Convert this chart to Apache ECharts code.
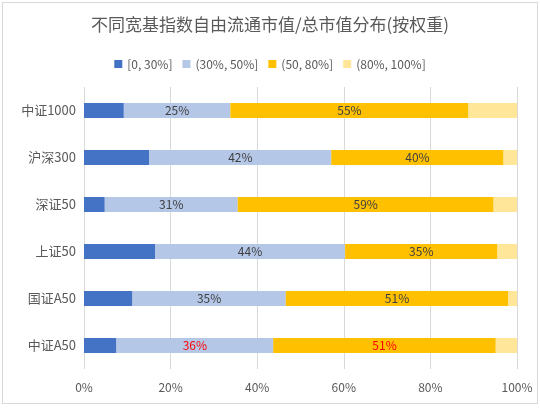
<!DOCTYPE html>
<html><head><meta charset="utf-8">
<script src="https://cdn.jsdelivr.net/npm/echarts@6/dist/echarts.min.js"></script>
<style>
html,body{margin:0;padding:0;background:#fff;}
#wrap{position:absolute;left:2px;top:2px;width:534px;height:400px;border:1px solid #d9d9d9;}
#c{position:absolute;left:0;top:0;width:540px;height:410px;}
</style></head>
<body>
<div id="wrap"></div>
<div id="c"></div>
<script>
const categories = ['中证1000','沪深300','深证50','上证50','国证A50','中证A50'];
const seriesNames = ['[0, 30%]','(30%, 50%]','(50, 80%]','(80%, 100%]'];
const s0_30 = [9.2, 15.1, 4.8, 16.4, 11.2, 7.5];
const s30_50 = [24.6, 42.0, 30.7, 43.9, 35.4, 36.2];
const s50_80 = [55.0, 39.8, 59.1, 35.2, 51.4, 51.4];
const s80_100 = [11.2, 3.1, 5.4, 4.5, 2.0, 4.9];
const xTicks = [0, 20, 40, 60, 80, 100];

const colors = ['#4472C4','#B4C7E7','#FFC000','#FFE699'];
const font = '"Noto Sans CJK SC", "Noto Sans", sans-serif';
const highlightIdx = 5;

function mk(name, vals, i, showLabel){
  return {
    name: name, type: 'bar', stack: 'a', barWidth: 15,
    itemStyle: {color: colors[i]},
    label: {show: showLabel, position: 'inside', color: '#404040', fontSize: 12, fontFamily: font,
      formatter: p => Math.round(p.value) + '%'},
    emphasis: {disabled: true},
    data: vals.map((v, k) => (showLabel && k === highlightIdx) ? {value: v, label: {color: '#FF0000'}} : v)
  };
}

const chart = echarts.init(document.getElementById('c'));
chart.setOption({
  animation: false,
  title: {text: '不同宽基指数自由流通市值/总市值分布(按权重)', left: 'center', top: 11,
    textStyle: {fontSize: 17, fontWeight: 'normal', color: '#595959', fontFamily: font}},
  legend: {top: 53, left: 'center', itemWidth: 8, itemHeight: 8, itemGap: 10, icon: 'rect',
    textStyle: {fontSize: 12, color: '#595959', fontFamily: font}, data: seriesNames},
  grid: {left: 84, right: 23, top: 87, bottom: 41, containLabel: false},
  xAxis: {type: 'value', min: 0, max: 100, interval: 20,
    axisLabel: {formatter: v => xTicks.includes(v) ? v + '%' : '', color: '#595959', fontSize: 12, fontFamily: font, margin: 12},
    axisLine: {show: false}, axisTick: {show: false},
    splitLine: {show: true, lineStyle: {color: '#D9D9D9'}}},
  yAxis: {type: 'category', data: categories, inverse: true,
    axisLabel: {color: '#595959', fontSize: 13, fontFamily: font, margin: 8},
    axisLine: {show: false}, axisTick: {show: false}},
  series: [
    mk(seriesNames[0], s0_30, 0, false),
    mk(seriesNames[1], s30_50, 1, true),
    mk(seriesNames[2], s50_80, 2, true),
    mk(seriesNames[3], s80_100, 3, false)
  ]
});
</script>
</body></html>
